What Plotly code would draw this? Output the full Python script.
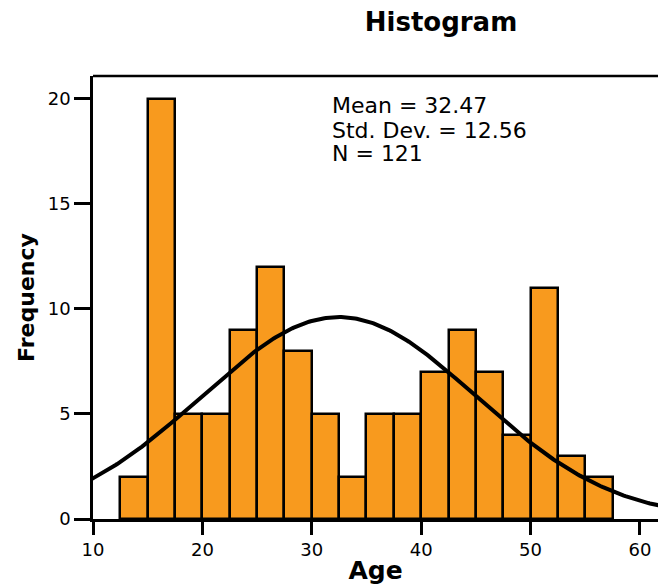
import numpy as np
import plotly.graph_objects as go

# Data
bin_centers = [13.75, 16.25, 18.75, 21.25, 23.75, 26.25, 28.75, 31.25, 33.75,
               36.25, 38.75, 41.25, 43.75, 46.25, 48.75, 51.25, 53.75, 56.25]
counts = [2, 20, 5, 5, 9, 12, 8, 5, 2, 5, 5, 7, 9, 7, 4, 11, 3, 2]
bin_width = 2.5
mean_age = 32.47
std_age = 12.56
n_obs = 121
stats_lines = ["Mean = 32.47", "Std. Dev. = 12.56", "N = 121"]
x_ticks = [10, 20, 30, 40, 50, 60]
y_ticks = [0, 5, 10, 15, 20]

# Normal curve implied by the stated statistics
xc = np.linspace(8, 64, 400)
yc = n_obs * bin_width * np.exp(-0.5 * ((xc - mean_age) / std_age) ** 2) / (std_age * np.sqrt(2 * np.pi))

fig = go.Figure()
fig.add_trace(go.Bar(
    x=bin_centers, y=counts, width=[bin_width] * len(counts),
    marker=dict(color="#F89A1E", line=dict(color="black", width=2.5)),
    showlegend=False, hoverinfo="x+y",
))
fig.add_trace(go.Scatter(
    x=xc, y=yc, mode="lines", line=dict(color="black", width=4),
    showlegend=False, hoverinfo="skip",
))

tick_font = dict(family="DejaVu Sans", size=18, color="black")
fig.update_layout(
    width=658, height=585,
    margin=dict(l=93, r=0, t=76, b=66),
    paper_bgcolor="white", plot_bgcolor="white",
    bargap=0,
    title=dict(text="<b>Histogram</b>", x=441 / 658, xanchor="center",
               y=1 - 22 / 585, yanchor="middle", yref="container",
               font=dict(family="DejaVu Sans", size=26, color="black")),
    xaxis=dict(range=[10, 61.65], tickvals=x_ticks, ticks="outside", ticklen=13,
               tickwidth=2.5, tickcolor="black", showline=True, linewidth=2.5,
               linecolor="black", showgrid=False, zeroline=False, tickfont=tick_font,
               title=dict(text="<b>Age</b>", standoff=5,
                          font=dict(family="DejaVu Sans", size=25, color="black"))),
    yaxis=dict(range=[0, 21.08], tickvals=y_ticks, ticks="outside", ticklen=16,
               tickwidth=2.5, tickcolor="black", showline=True, linewidth=2.5,
               linecolor="black", showgrid=False, zeroline=False, tickfont=tick_font,
               title=dict(text="<b>Frequency</b>", standoff=8,
                          font=dict(family="DejaVu Sans", size=22, color="black"))),
    shapes=[dict(type="line", xref="paper", yref="paper", x0=0, x1=1, y0=1, y1=1,
                 line=dict(color="black", width=2.5))],
)

stat_y = [19.7, 18.51, 17.37]
for txt, yy in zip(stats_lines, stat_y):
    fig.add_annotation(x=31.64, y=yy, xref="x", yref="y", text=txt, showarrow=False,
                       xanchor="left", yanchor="middle",
                       font=dict(family="DejaVu Sans", size=22, color="black"))

fig.write_html("out.html")
